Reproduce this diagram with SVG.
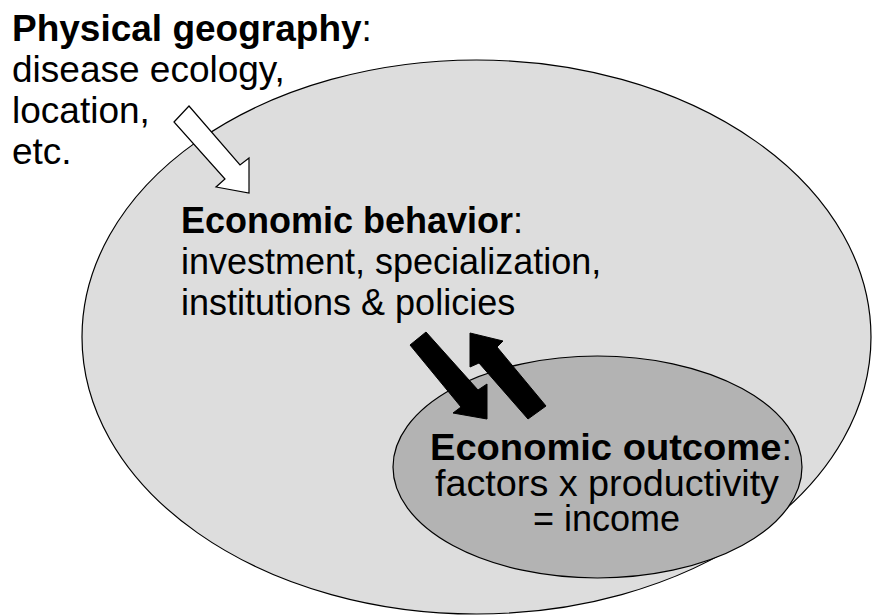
<svg xmlns="http://www.w3.org/2000/svg" width="872" height="616" viewBox="0 0 872 616">
<style>
text{font-family:"Liberation Sans",Arial,sans-serif;font-size:36px;fill:#000}
.geo{font-size:37px}
.b{font-weight:bold}
.ell{stroke:#000;stroke-width:1.2}
.arrow-w{fill:#fff;stroke:#000;stroke-width:1.2;stroke-linejoin:miter}
.arrow-k{fill:#000;stroke:#000;stroke-width:1}
</style>
<rect width="872" height="616" fill="#fff"/>
<g id="behavior">
<ellipse class="ell" cx="476.5" cy="337" rx="394.5" ry="277" fill="#dddddd"/>
<text x="181" y="233"><tspan class="b">Economic behavior</tspan>:</text>
<text x="181" y="274">investment, specialization,</text>
<text x="181" y="315">institutions &amp; policies</text>
</g>
<g id="outcome">
<ellipse class="ell" cx="597.5" cy="467" rx="204.5" ry="111" fill="#b3b3b3"/>
<text x="430" y="460" textLength="362" lengthAdjust="spacingAndGlyphs"><tspan class="b">Economic outcome</tspan>:</text>
<text x="435" y="495.5" textLength="344" lengthAdjust="spacingAndGlyphs">factors x productivity</text>
<text x="680" y="531" text-anchor="end">= income</text>
</g>
<g id="geography">
<text class="geo" x="12" y="41"><tspan class="b">Physical geography</tspan>:</text>
<text class="geo" x="12" y="82">disease ecology,</text>
<text class="geo" x="12" y="123">location,</text>
<text class="geo" x="12" y="164">etc.</text>
</g>
<g id="connectors">
<polygon class="arrow-w" points="174,122 189,106 240,165 249,158 249,193 216,187 225,179"/>
<polygon class="arrow-k" points="410,345 426,332 478,390 487,384 487,419 453,413 461,407"/>
<polygon class="arrow-k" points="470,333 503,341 497,347 546,406 528,419 479,363 470,367"/>
</g>
</svg>
